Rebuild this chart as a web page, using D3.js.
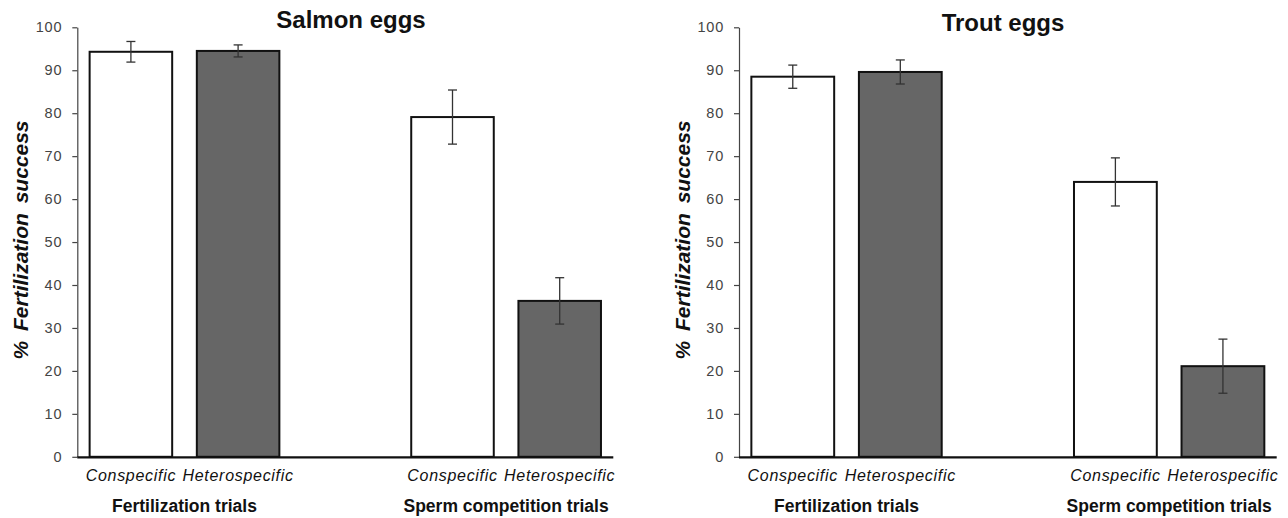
<!DOCTYPE html>
<html>
<head>
<meta charset="utf-8">
<script src="https://cdn.jsdelivr.net/npm/d3@7"></script>
<style>
  body { margin: 0; background: #fff; }
  svg { display: block; font-family: "Liberation Sans", Arial, sans-serif; }
</style>
</head>
<body>
<svg id="chart" width="1288" height="518"></svg>
<script>
const categories = ['Conspecific', 'Heterospecific', 'Conspecific', 'Heterospecific'];
const barGroup = [0, 0, 1, 1];
const groups = ['Fertilization trials', 'Sperm competition trials'];
const barFills = ['#ffffff', '#666666', '#ffffff', '#666666'];
const yTicks = [0, 10, 20, 30, 40, 50, 60, 70, 80, 90, 100];

const salmonMeans = [94.3, 94.5, 79.1, 36.3];
const salmonErr = [2.4, 1.4, 6.3, 5.4];
const troutMeans = [88.5, 89.6, 64.0, 21.1];
const troutErr = [2.7, 2.8, 5.6, 6.3];

const svg = d3.select('#chart');

// band keys: one slot per bar plus an empty slot between the two groups
const keys = [];
groups.forEach((g, gi) => {
  if (gi) keys.push('gap' + gi);
  categories.forEach((c, i) => { if (barGroup[i] === gi) keys.push(g + '|' + c + i); });
});
const keyOf = i => groups[barGroup[i]] + '|' + categories[i] + i;

function drawPanel(title, means, errs, left, right, titleX, titleY) {
  const top = 27.3, bottom = 456.8;
  const g = svg.append('g');
  const x = d3.scaleBand().domain(keys).range([left, right]).paddingInner(0.23).paddingOuter(0.115);
  const y = d3.scaleLinear().domain([0, 100]).range([bottom, top]);

  // y axis
  const ya = g.append('g')
    .attr('transform', `translate(${left},0)`)
    .call(d3.axisLeft(y).tickValues(yTicks).tickSize(5).tickSizeOuter(0).tickPadding(10));
  ya.select('.domain').attr('stroke', '#444').attr('stroke-width', 1.2);
  ya.selectAll('.tick line').attr('stroke', '#444').attr('stroke-width', 1.2);
  ya.selectAll('.tick text')
    .attr('fill', '#444')
    .style('font-size', '14.5px')
    .style('letter-spacing', '0.8px')
    .style('font-family', '"Liberation Sans", Arial, sans-serif');

  // bars
  g.selectAll('rect.bar')
    .data(means)
    .enter()
    .append('rect')
    .attr('class', 'bar')
    .attr('x', (d, i) => x(keyOf(i)))
    .attr('y', d => y(d))
    .attr('width', x.bandwidth())
    .attr('height', d => y(0) - y(d))
    .attr('fill', (d, i) => barFills[i])
    .attr('stroke', '#111')
    .attr('stroke-width', 2);

  // error bars
  const cx = i => x(keyOf(i)) + x.bandwidth() / 2;
  const eb = g.selectAll('g.err')
    .data(means)
    .enter()
    .append('g')
    .attr('class', 'err')
    .attr('stroke', '#333')
    .attr('stroke-width', 1.3);
  eb.append('line')
    .attr('x1', (d, i) => cx(i)).attr('x2', (d, i) => cx(i))
    .attr('y1', (d, i) => y(d + errs[i])).attr('y2', (d, i) => y(d - errs[i]));
  eb.append('line')
    .attr('x1', (d, i) => cx(i) - 4.5).attr('x2', (d, i) => cx(i) + 4.5)
    .attr('y1', (d, i) => y(d + errs[i])).attr('y2', (d, i) => y(d + errs[i]));
  eb.append('line')
    .attr('x1', (d, i) => cx(i) - 4.5).attr('x2', (d, i) => cx(i) + 4.5)
    .attr('y1', (d, i) => y(d - errs[i])).attr('y2', (d, i) => y(d - errs[i]));

  // x axis with category labels
  const labelOf = {};
  categories.forEach((c, i) => { labelOf[keyOf(i)] = c; });
  const xa = g.append('g')
    .attr('transform', `translate(0,${bottom})`)
    .call(d3.axisBottom(x).tickSize(0).tickSizeOuter(0).tickPadding(13).tickFormat(k => labelOf[k] || ''));
  xa.select('.domain').attr('stroke', '#111').attr('stroke-width', 2.2)
    .attr('d', `M${left},0.5H${right}`);
  xa.selectAll('.tick text')
    .attr('fill', '#111')
    .style('font-size', '16px')
    .style('font-style', 'italic')
    .style('letter-spacing', '0.7px')
    .style('font-family', '"Liberation Sans", Arial, sans-serif');

  // group labels
  groups.forEach((grp, gi) => {
    const idx = barGroup.map((b, i) => b === gi ? i : -1).filter(i => i >= 0);
    const mid = d3.mean(idx, i => cx(i));
    g.append('text')
      .attr('x', mid)
      .attr('y', 511.5)
      .attr('text-anchor', 'middle')
      .attr('font-weight', 'bold')
      .attr('font-size', 17.5)
      .attr('fill', '#111')
      .text(grp);
  });

  // title
  g.append('text')
    .attr('x', titleX)
    .attr('y', titleY)
    .attr('text-anchor', 'middle')
    .attr('font-weight', 'bold')
    .attr('font-size', 24)
    .attr('fill', '#111')
    .text(title);

  // y label
  g.append('text')
    .attr('transform', `translate(${left - 57},${240}) rotate(-90)`)
    .attr('text-anchor', 'middle')
    .attr('dominant-baseline', 'central')
    .attr('font-weight', 'bold')
    .attr('font-style', 'italic')
    .attr('font-size', 21)
    .attr('word-spacing', 4)
    .attr('fill', '#111')
    .text('% Fertilization success');
}

drawPanel('Salmon eggs', salmonMeans, salmonErr, 77.3, 613.3, 351, 28);
drawPanel('Trout eggs', troutMeans, troutErr, 739, 1276.7, 1003, 31);
</script>
</body>
</html>
